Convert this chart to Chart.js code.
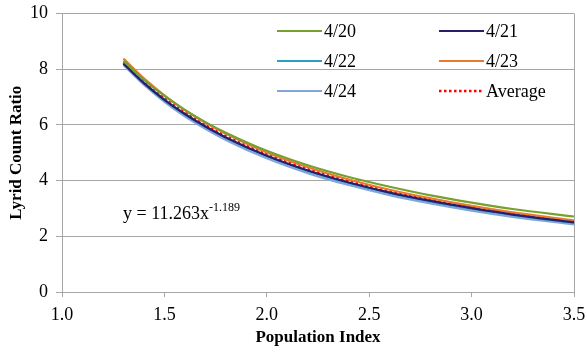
<!DOCTYPE html>
<html>
<head>
<meta charset="utf-8">
<script src="https://cdn.jsdelivr.net/npm/chart.js@4"></script>
<style>
  html, body { margin: 0; padding: 0; background: #fff; }
  #wrap { width: 587px; height: 349px; position: relative; }
</style>
</head>
<body>
<div id="wrap"><canvas id="c"></canvas></div>
<script>
// population index sample points (x)
const popIndex = [1.3, 1.4, 1.5, 1.6, 1.7, 1.8, 2.0, 2.2, 2.4, 2.6, 2.8, 3.0, 3.2, 3.5];

// count ratio
const d420 = [8.30, 7.62, 7.04, 6.54, 6.10, 5.72, 5.07, 4.55, 4.13, 3.78, 3.47, 3.21, 2.98, 2.71];
const d421 = [8.20, 7.50, 6.90, 6.39, 5.94, 5.55, 4.89, 4.36, 3.93, 3.57, 3.27, 3.01, 2.78, 2.50];
const d422 = [8.22, 7.51, 6.91, 6.39, 5.94, 5.54, 4.88, 4.35, 3.92, 3.56, 3.25, 2.99, 2.77, 2.49];
const d423 = [8.38, 7.67, 7.06, 6.53, 6.08, 5.68, 5.01, 4.48, 4.04, 3.67, 3.36, 3.09, 2.86, 2.57];
const d424 = [8.15, 7.44, 6.83, 6.31, 5.86, 5.46, 4.80, 4.27, 3.84, 3.48, 3.18, 2.92, 2.70, 2.43];
const avg  = [8.25, 7.55, 6.95, 6.44, 5.99, 5.60, 4.94, 4.41, 3.98, 3.62, 3.31, 3.05, 2.82, 2.54];

const seriesNames = ["4/20", "4/21", "4/22", "4/23", "4/24", "Average"];
const xTicks = [1.0, 1.5, 2.0, 2.5, 3.0, 3.5];
const yTicks = [0, 2, 4, 6, 8, 10];

const gridGray = "#a6a6a6";
const serif = "'Liberation Serif', 'Times New Roman', serif";

function pts(arr) {
  return popIndex.map((x, i) => ({ x: x, y: arr[i] }));
}

function line(label, data, color, extra) {
  return Object.assign({
    label: label,
    data: pts(data),
    borderColor: color,
    backgroundColor: color,
    borderWidth: 2.2,
    pointRadius: 0,
    cubicInterpolationMode: "monotone",
    fill: false
  }, extra || {});
}

// legend in two columns inside the plot, plus the fit equation
const overlay = {
  id: "overlay",
  afterDraw(chart) {
    const ctx = chart.ctx;
    const cols = [277, 439];
    const rows = [31, 61, 91];
    ctx.save();
    ctx.font = "18px " + serif;
    ctx.textBaseline = "middle";
    ctx.fillStyle = "#000";
    chart.data.datasets.forEach((ds, i) => {
      const x = cols[i % 2];
      const y = rows[Math.floor(i / 2)];
      ctx.beginPath();
      ctx.strokeStyle = ds.borderColor;
      ctx.lineWidth = ds.borderWidth;
      ctx.setLineDash(ds.borderDash || []);
      ctx.moveTo(x, y);
      ctx.lineTo(x + 45, y);
      ctx.stroke();
      ctx.setLineDash([]);
      ctx.fillText(ds.label, x + 47, y + 1);
    });

    // equation text
    ctx.textBaseline = "alphabetic";
    ctx.font = "18px " + serif;
    const main = "y = 11.263x";
    ctx.fillText(main, 123, 219);
    const w = ctx.measureText(main).width;
    ctx.font = "12px " + serif;
    ctx.fillText("-1.189", 123 + w, 211);
    ctx.restore();
  }
};

new Chart(document.getElementById("c"), {
  type: "line",
  data: {
    datasets: [
      line(seriesNames[0], d420, "#77a02e"),
      line(seriesNames[1], d421, "#2b1d6b"),
      line(seriesNames[2], d422, "#2aa1c4"),
      line(seriesNames[3], d423, "#ea7a2c"),
      line(seriesNames[4], d424, "#7fa6da"),
      line(seriesNames[5], avg, "#ff0000", { borderDash: [2.5, 2.5], borderWidth: 2.5 })
    ]
  },
  plugins: [overlay],
  options: {
    responsive: true,
    maintainAspectRatio: false,
    animation: false,
    layout: { padding: { top: 13.5, right: 13, left: 0, bottom: 0 } },
    plugins: {
      legend: { display: false },
      tooltip: { enabled: false }
    },
    scales: {
      x: {
        type: "linear",
        min: 1,
        max: 3.5,
        afterBuildTicks: s => { s.ticks = xTicks.map(v => ({ value: v })); },
        afterFit: s => { s.height = 57; s.paddingLeft = 0; s.paddingRight = 0; },
        border: { color: gridGray, width: 1 },
        grid: {
          color: c => (c.tick && c.tick.value === 3.5 ? gridGray : "transparent"),
          tickColor: gridGray,
          tickLength: 5,
          drawOnChartArea: true
        },
        ticks: {
          color: "#000",
          font: { family: serif, size: 18 },
          padding: 7,
          maxRotation: 0,
          callback: v => Number(v).toFixed(1)
        },
        title: {
          display: true,
          text: "Population Index",
          color: "#000",
          font: { family: serif, size: 17, weight: "bold" },
          padding: { top: 0, bottom: 1 }
        }
      },
      y: {
        min: 0,
        max: 10,
        afterBuildTicks: s => { s.ticks = yTicks.map(v => ({ value: v })); },
        afterFit: s => { s.width = 62; s.paddingTop = 0; s.paddingBottom = 0; },
        border: { color: gridGray, width: 1 },
        grid: {
          color: gridGray,
          tickColor: gridGray,
          tickLength: 6
        },
        ticks: {
          color: "#000",
          font: { family: serif, size: 18 },
          padding: 8
        },
        title: {
          display: true,
          text: "Lyrid Count Ratio",
          color: "#000",
          font: { family: serif, size: 17, weight: "bold" },
          padding: { top: 6, bottom: 0 }
        }
      }
    }
  }
});
</script>
</body>
</html>
